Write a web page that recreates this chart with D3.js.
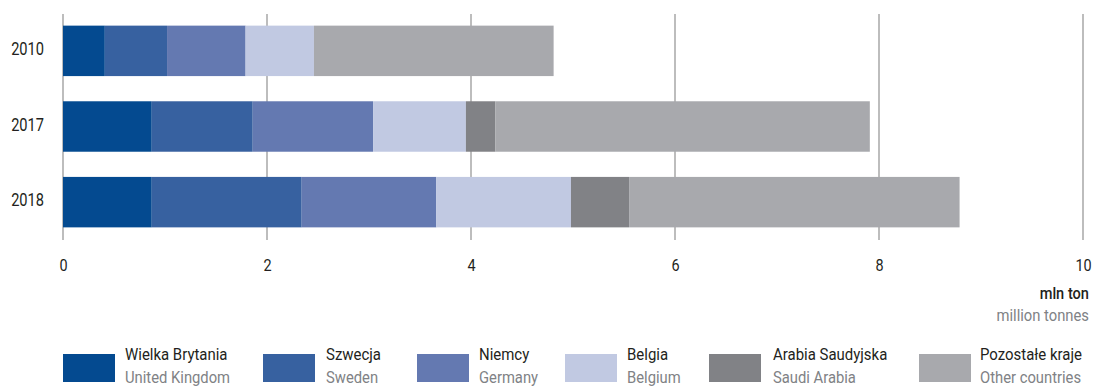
<!DOCTYPE html>
<html>
<head>
<meta charset="utf-8">
<script src="https://cdn.jsdelivr.net/npm/d3@7"></script>
<style>
  body { margin: 0; background: #fff; }
  text { font-family: "Roboto", "Liberation Sans", sans-serif; }
</style>
</head>
<body>
<svg width="1093" height="387"></svg>
<script>
var years = ["2010", "2017", "2018"];
var seriesPl = ["Wielka Brytania", "Szwecja", "Niemcy", "Belgia", "Arabia Saudyjska", "Pozostałe kraje"];
var seriesEn = ["United Kingdom", "Sweden", "Germany", "Belgium", "Saudi Arabia", "Other countries"];
var colors = ["#044a90", "#3761a0", "#6479b1", "#c1c9e2", "#818286", "#a8a9ad"];
// mln ton, per year, in series order
var uk     = [0.41, 0.87, 0.87];
var sweden = [0.61, 0.99, 1.47];
var germany= [0.77, 1.18, 1.32];
var belgium= [0.67, 0.91, 1.32];
var saudi  = [0.00, 0.29, 0.57];
var others = [2.35, 3.67, 3.24];
var xTicks = [0, 2, 4, 6, 8, 10];

var svg = d3.select("svg");

// the original uses a condensed face, so squeeze Roboto horizontally
function narrow(sel, px, py, sx) {
  sel.attr("transform", function(d, i) {
      var xx = typeof px === "function" ? px(d, i) : px;
      var yy = typeof py === "function" ? py(d, i) : py;
      return "translate(" + xx + "," + yy + ") scale(" + sx + ",1)";
    })
    .attr("x", 0).attr("y", 0);
}

var keys = ["uk", "sweden", "germany", "belgium", "saudi", "others"];
var table = years.map(function(y, i) {
  return { year: y, uk: uk[i], sweden: sweden[i], germany: germany[i],
           belgium: belgium[i], saudi: saudi[i], others: others[i] };
});

var x = d3.scaleLinear().domain([0, 10]).range([63, 1083]);
var y = d3.scaleBand().domain(years).range([13, 240])
    .paddingInner(0.333).paddingOuter(0.167);

// grid lines
svg.append("g")
    .selectAll("line")
    .data(xTicks)
    .enter().append("line")
    .attr("x1", function(d) { return x(d); })
    .attr("x2", function(d) { return x(d); })
    .attr("y1", 14)
    .attr("y2", 240)
    .attr("stroke", "#9a9a9a")
    .attr("stroke-width", 1.3);

var layers = d3.stack().keys(keys)(table);

svg.append("g")
    .selectAll("g")
    .data(layers)
    .enter().append("g")
    .attr("fill", function(d, i) { return colors[i]; })
    .selectAll("rect")
    .data(function(d) { return d; })
    .enter().append("rect")
    .attr("x", function(d) { return x(d[0]); })
    .attr("width", function(d) { return x(d[1]) - x(d[0]); })
    .attr("y", function(d) { return y(d.data.year); })
    .attr("height", y.bandwidth());

// year labels
svg.append("g")
    .selectAll("text")
    .data(years)
    .enter().append("text")
    .call(narrow, 44, function(d) { return y(d) + y.bandwidth() / 2 + 4; }, 0.77)
    .attr("text-anchor", "end")
    .attr("font-size", 19)
    .attr("fill", "#231f20")
    .text(function(d) { return d; });

// x axis tick labels
var xAxis = d3.axisBottom(x).tickValues(xTicks).tickSize(0).tickPadding(0);
var ax = svg.append("g")
    .attr("transform", "translate(0,259)")
    .call(xAxis);
ax.select(".domain").remove();
ax.selectAll("text")
    .attr("font-size", 17)
    .attr("fill", "#231f20")
    .attr("transform", "scale(0.85,1)")
    .style("font-family", "Roboto, sans-serif");

// unit
svg.append("text")
    .call(narrow, 1089, 299, 0.86)
    .attr("text-anchor", "end")
    .attr("font-size", 17)
    .attr("font-weight", 500)
    .attr("fill", "#231f20")
    .text("mln ton");
svg.append("text")
    .call(narrow, 1089, 321, 0.87)
    .attr("text-anchor", "end")
    .attr("font-size", 17)
    .attr("fill", "#808285")
    .text("million tonnes");

// legend
var swatchX = [63, 263, 417, 565, 709, 919];
var labelX = [125, 326, 479, 627, 773, 980];
var leg = svg.append("g");
leg.selectAll("rect")
    .data(seriesPl)
    .enter().append("rect")
    .attr("x", function(d, i) { return swatchX[i]; })
    .attr("y", 354)
    .attr("width", 52).attr("height", 28)
    .attr("fill", function(d, i) { return colors[i]; });
leg.selectAll("text.pl")
    .data(seriesPl)
    .enter().append("text")
    .attr("class", "pl")
    .call(narrow, function(d, i) { return labelX[i]; }, 360, 0.88)
    .attr("font-size", 17)
    .attr("fill", "#231f20")
    .text(function(d) { return d; });
leg.selectAll("text.en")
    .data(seriesEn)
    .enter().append("text")
    .attr("class", "en")
    .call(narrow, function(d, i) { return labelX[i]; }, 383, 0.87)
    .attr("font-size", 17)
    .attr("fill", "#808285")
    .text(function(d) { return d; });
</script>
</body>
</html>
